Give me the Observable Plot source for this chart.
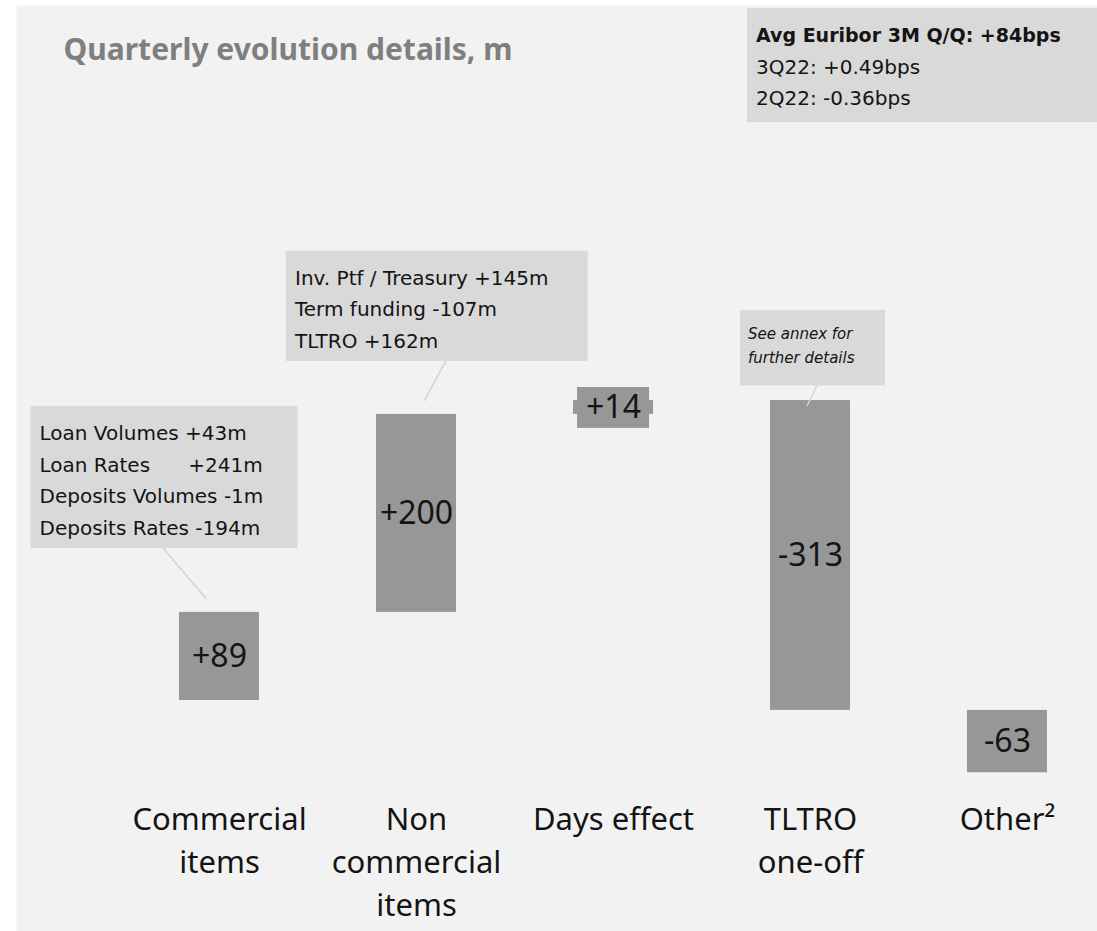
<!DOCTYPE html>
<html>
<head>
<meta charset="utf-8">
<script src="https://cdn.jsdelivr.net/npm/d3@7"></script>
<script src="https://cdn.jsdelivr.net/npm/@observablehq/plot@0.6"></script>
<style>
  html, body { margin: 0; padding: 0; background: #ffffff; }
  #chart svg { display: block; }
</style>
</head>
<body>
<div id="chart"></div>
<script>
// ---------- Data ----------
const title = "Quarterly evolution details, m";
const categories = ["Commercial items", "Non commercial items", "Days effect", "TLTRO one-off", "Other²"];
const tickLabels = ["Commercial\nitems", "Non\ncommercial\nitems", "Days effect", "TLTRO\none-off", "Other²"];
const values = [89, 200, 14, -313, -63];
const valueLabels = ["+89", "+200", "+14", "-313", "-63"];

const euriborLines = ["Avg Euribor 3M Q/Q: +84bps", "3Q22: +0.49bps", "2Q22: -0.36bps"];
const commercialNotes = ["Loan Volumes +43m", "Loan Rates\u00a0\u00a0\u00a0\u00a0\u00a0\u00a0+241m", "Deposits Volumes -1m", "Deposits Rates -194m"];
const nonCommercialNotes = ["Inv. Ptf / Treasury +145m", "Term funding -107m", "TLTRO +162m"];
const tltroNotes = ["See annex for", "further details"];

// waterfall table built from the arrays
let acc = 0;
const rows = categories.map((c, i) => {
  const start = acc;
  acc += values[i];
  return {category: c, value: values[i], start, end: acc, label: valueLabels[i]};
});

const FONT = "'Noto Sans', sans-serif";
const NOTE_FONT = "'DejaVu Sans', sans-serif";
const BAR = "#979797";
const BOX = "#d9d9d9";
const INK = "#141414";

const chart = Plot.plot({
  width: 1097,
  height: 931,
  margin: 0,
  style: {fontFamily: FONT, background: "#ffffff", overflow: "visible"},
  x: {domain: categories, range: [118.75, 1106.25], paddingInner: 0.595, paddingOuter: 0.2975, axis: null},
  y: {domain: [-200, 700], range: [898, 7], axis: null},
  marks: [
    Plot.frame({fill: "#f2f2f2", stroke: null, insetLeft: 16, insetTop: 5}),
    Plot.barY(rows, {x: "category", y1: "start", y2: "end", fill: BAR}),
    Plot.barY(rows.filter(d => Math.abs(d.value) < 30), {x: "category", y1: "start", y2: "end", fill: BAR,
      insetLeft: 4, insetRight: 4, insetTop: -13, insetBottom: -14}),
    Plot.text(rows, {x: "category", y: d => (d.start + d.end) / 2, text: "label", fontSize: 32, fill: INK}),
    Plot.text(categories, {x: d => d, text: (d, i) => tickLabels[i], frameAnchor: "bottom", dy: -132,
      lineAnchor: "top", lineHeight: 1.39, fontSize: 31, fill: INK}),
    Plot.text([title], {frameAnchor: "top-left", dx: 63, dy: 50, textAnchor: "start", lineAnchor: "middle",
      fontSize: 30, fontWeight: "bold", fill: "#7f7f7f"})
  ]
});

document.getElementById("chart").append(chart);

// ---------- Annotations, anchored through the chart's own scales ----------
const sx = chart.scale("x");
const sy = chart.scale("y");
const svg = d3.select(chart);
const layer = svg.append("g").attr("font-family", NOTE_FONT).attr("text-anchor", "start");

const notes = [
  {cat: categories[0], lines: commercialNotes, box: [-188.5, 78.5, -206, -64], tx: -179.5, ty: -179, pitch: 31.7, size: 20, italic: false, link: [-56, -64, -12.5, -13]},
  {cat: categories[1], lines: nonCommercialNotes, box: [-130.3, 171.7, -163, -53], tx: -121, ty: -136.3, pitch: 31.7, size: 20, italic: false, link: [30, -53, 8, -13]},
  {cat: categories[3], lines: tltroNotes, box: [-70, 75, -90, -14.5], tx: -62, ty: -66, pitch: 24, size: 15, italic: true, link: [7, -14.5, -3, 6]}
];

for (const n of notes) {
  const r = rows.find(d => d.category === n.cat);
  const cx = sx.apply(n.cat) + sx.bandwidth / 2;
  const top = sy.apply(Math.max(r.start, r.end));
  layer.append("rect")
    .attr("x", cx + n.box[0]).attr("y", top + n.box[2])
    .attr("width", n.box[1] - n.box[0]).attr("height", n.box[3] - n.box[2])
    .attr("fill", BOX);
  layer.append("line")
    .attr("x1", cx + n.link[0]).attr("y1", top + n.link[1])
    .attr("x2", cx + n.link[2]).attr("y2", top + n.link[3])
    .attr("stroke", "#d4d4d4").attr("stroke-width", 1.5);
  n.lines.forEach((t, i) => {
    layer.append("text")
      .attr("x", cx + n.tx).attr("y", top + n.ty + i * n.pitch)
      .attr("dominant-baseline", "central")
      .attr("text-anchor", "start")
      .attr("font-size", n.size)
      .attr("font-style", n.italic ? "italic" : "normal")
      .attr("fill", INK)
      .text(t);
  });
}

// Euribor info box (top right)
layer.append("rect").attr("x", 747).attr("y", 8).attr("width", 350).attr("height", 114).attr("fill", BOX);
euriborLines.forEach((t, i) => {
  layer.append("text")
    .attr("x", 756).attr("y", [35, 67, 98][i])
    .attr("dominant-baseline", "central")
    .attr("text-anchor", "start")
    .attr("font-size", i === 0 ? 19 : 20)
    .attr("font-weight", i === 0 ? "bold" : "normal")
    .attr("fill", INK)
    .text(t);
});
</script>
</body>
</html>
